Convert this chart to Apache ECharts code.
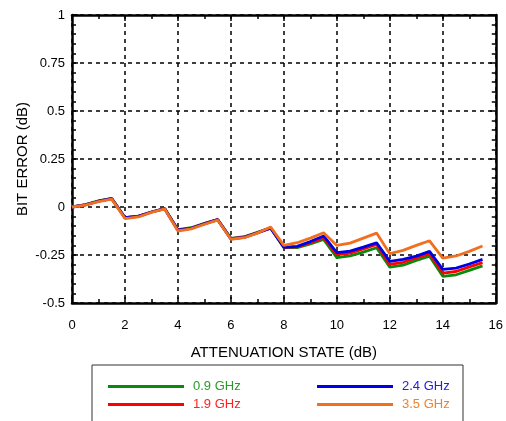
<!DOCTYPE html>
<html><head><meta charset="utf-8">
<script src="https://cdn.jsdelivr.net/npm/echarts@6/dist/echarts.min.js"></script>
<style>html,body{margin:0;padding:0;background:#fff}#c{width:506px;height:421px}</style>
</head><body><div id="c"></div>
<script>
const xs = [0,0.5,1,1.5,2,2.5,3,3.5,4,4.5,5,5.5,6,6.5,7,7.5,8,8.5,9,9.5,10,10.5,11,11.5,12,12.5,13,13.5,14,14.5,15,15.5];
const seriesNames = ['0.9 GHz','1.9 GHz','2.4 GHz','3.5 GHz'];
const g09 = [0,0.012,0.032,0.045,-0.055,-0.048,-0.026,-0.008,-0.118,-0.108,-0.085,-0.065,-0.163,-0.155,-0.132,-0.108,-0.212,-0.212,-0.192,-0.169,-0.264,-0.255,-0.235,-0.212,-0.313,-0.303,-0.278,-0.256,-0.361,-0.353,-0.33,-0.307];
const g19 = [0,0.011,0.03,0.043,-0.056,-0.049,-0.026,-0.009,-0.12,-0.11,-0.087,-0.066,-0.165,-0.157,-0.134,-0.109,-0.21,-0.208,-0.186,-0.16,-0.248,-0.24,-0.218,-0.195,-0.299,-0.288,-0.265,-0.243,-0.344,-0.336,-0.312,-0.29];
const g24 = [0,0.011,0.03,0.043,-0.056,-0.049,-0.026,-0.009,-0.121,-0.111,-0.088,-0.066,-0.166,-0.158,-0.135,-0.11,-0.21,-0.205,-0.18,-0.151,-0.238,-0.23,-0.209,-0.186,-0.283,-0.273,-0.256,-0.231,-0.325,-0.318,-0.297,-0.273];
const g35 = [0,0.01,0.028,0.041,-0.06,-0.052,-0.028,-0.01,-0.125,-0.114,-0.09,-0.068,-0.168,-0.16,-0.136,-0.104,-0.2,-0.186,-0.162,-0.134,-0.2,-0.188,-0.162,-0.136,-0.243,-0.226,-0.2,-0.176,-0.266,-0.255,-0.231,-0.203];
const colors = ['#0a8a0a','#ff0000','#0000e6','#f07020'];
const textColors = ['#2a9a2a','#ff2020','#2020e0','#f08030'];
const dataSets = [g09,g19,g24,g35];
const xTicks = [0,2,4,6,8,10,12,14,16];
const yTicks = [-0.5,-0.25,0,0.25,0.5,0.75,1];

const chart = echarts.init(document.getElementById('c'), null, {renderer:'canvas'});
const font = 'Liberation Sans, Arial, Helvetica, sans-serif';
const axisLine = {show:true,onZero:false,lineStyle:{color:'#000',width:2.5}};
const axisTick = {show:true,inside:true,length:6,lineStyle:{color:'#000',width:1.5}};
const option = {
  animation:false,
  backgroundColor:'#fff',
  grid:{left:72,top:15,right:10,bottom:118},
  xAxis:[
    {type:'value',min:0,max:16,interval:2,position:'bottom',
      name:'ATTENUATION STATE (dB)',nameLocation:'middle',nameGap:42,nameMoveOverlap:false,
      nameTextStyle:{fontFamily:font,fontSize:15,color:'#000'},
      axisLine, axisTick,
      axisLabel:{fontFamily:font,fontSize:13,color:'#000',margin:16},
      splitLine:{show:true,lineStyle:{color:'#000',type:[4,4],width:1.5}},
      minorTick:{show:true,splitNumber:2,length:4,lineStyle:{color:'#000',width:1.5}}},
    {type:'value',min:0,max:16,interval:2,position:'top',
      axisLine, axisTick,
      axisLabel:{show:false},splitLine:{show:false},
      minorTick:{show:true,splitNumber:2,length:4,lineStyle:{color:'#000',width:1.5}}}
  ],
  yAxis:[
    {type:'value',min:-0.5,max:1,interval:0.25,position:'left',
      name:'BIT ERROR (dB)',nameLocation:'middle',nameGap:42,nameMoveOverlap:false,
      nameTextStyle:{fontFamily:font,fontSize:15,color:'#000'},
      axisLine, axisTick,
      axisLabel:{fontFamily:font,fontSize:13,color:'#000',margin:7},
      splitLine:{show:true,lineStyle:{color:'#000',type:[4,4],width:1.5}},
      minorTick:{show:true,splitNumber:5,length:4,lineStyle:{color:'#000',width:1.5}}},
    {type:'value',min:-0.5,max:1,interval:0.25,position:'right',
      axisLine, axisTick,
      axisLabel:{show:false},splitLine:{show:false},
      minorTick:{show:true,splitNumber:5,length:4,lineStyle:{color:'#000',width:1.5}}}
  ],
  legend:[
    {orient:'vertical',left:108,top:380,padding:0,itemGap:5,itemWidth:76,itemHeight:3,icon:'rect',
     textStyle:{fontFamily:font,fontSize:13,padding:[0,0,0,4]},
     data:[{name:seriesNames[0],textStyle:{color:textColors[0]}},{name:seriesNames[1],textStyle:{color:textColors[1]}}]},
    {orient:'vertical',left:317,top:380,padding:0,itemGap:5,itemWidth:76,itemHeight:3,icon:'rect',
     textStyle:{fontFamily:font,fontSize:13,padding:[0,0,0,4]},
     data:[{name:seriesNames[2],textStyle:{color:textColors[2]}},{name:seriesNames[3],textStyle:{color:textColors[3]}}]}
  ],
  graphic:[{type:'rect',shape:{x:92,y:365,width:371,height:70},style:{fill:'none',stroke:'#333',lineWidth:1},z:-1}],
  series: dataSets.map((d,i)=>({
    name:seriesNames[i],type:'line',xAxisIndex:0,yAxisIndex:0,
    data:xs.map((x,j)=>[x,d[j]]),
    symbol:'none',showSymbol:false,
    lineStyle:{color:colors[i],width:2.8},itemStyle:{color:colors[i]},
    z:2+i
  }))
};
chart.setOption(option);
</script></body></html>
